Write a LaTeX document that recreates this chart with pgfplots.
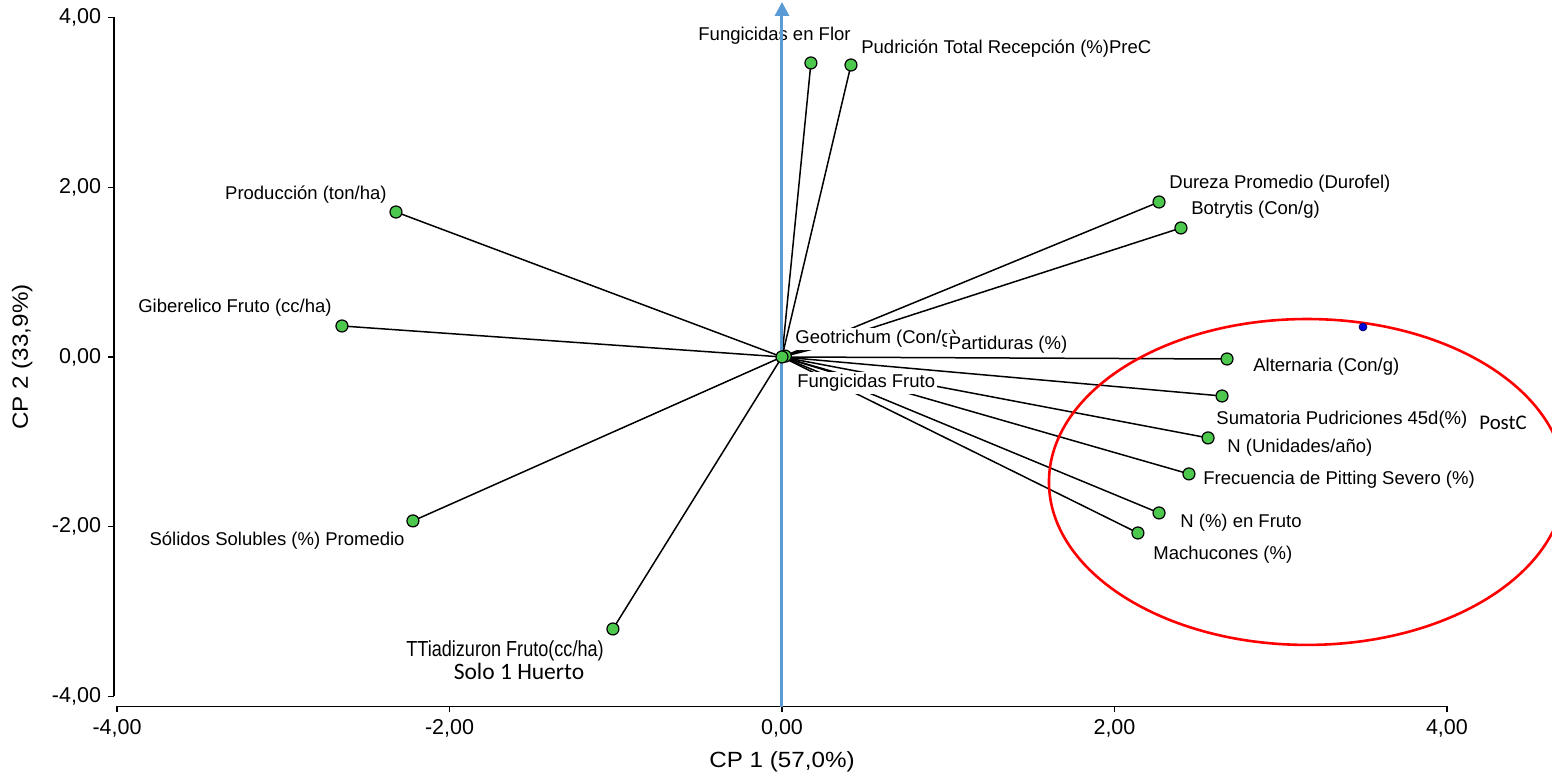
\documentclass[border=0pt]{standalone}
\usepackage{pgfplots}
\pgfplotsset{compat=1.18}
\usepackage{pgfplotstable}
\usepackage{fontspec}
\setmainfont{Liberation Sans}
\newfontfamily\calib{Carlito}
\newfontfamily\narrowfont[FakeStretch=0.83]{Liberation Sans}
\newfontfamily\axlabfont[FakeStretch=1.1]{Liberation Sans}
\usetikzlibrary{arrows.meta}

\definecolor{ptgreen}{RGB}{76,201,76}
\definecolor{arrowblue}{RGB}{91,155,213}
\definecolor{dotblue}{RGB}{0,0,220}
\newcommand\lf{\fontsize{9.25}{11}\selectfont}

\pgfplotstableread{
x y
0.174 3.464
0.415 3.440
2.268 1.826
2.400 1.520
-2.322 1.708
-2.647 0.365
0.40 0.20
0.02 0.01
0.50 -0.30
2.677 -0.024
2.647 -0.460
2.563 -0.954
2.448 -1.378
2.268 -1.838
2.141 -2.074
-2.220 -1.932
-1.017 -3.205
}\loadings

\begin{document}
\begin{tikzpicture}
\begin{axis}[
  scale only axis, width=665pt, height=339.5pt,
  xmin=-4, xmax=4, ymin=-4, ymax=4,
  axis x line*=bottom, axis y line*=left,
  axis line style={black, line width=0.6pt},
  x axis line style={yshift=-5pt},
  y axis line style={xshift=-1.5pt},
  xtick={-4,-2,0,2,4}, ytick={-4,-2,0,2,4},
  minor tick num=0,
  tick align=outside, major tick length=3pt,
  xtick style={yshift=-5pt, black, line width=0.6pt},
  ytick style={xshift=-1.5pt, black, line width=0.6pt},
  xticklabel style={yshift=-5pt},
  yticklabel style={xshift=-1.5pt},
  tick label style={font=\fontsize{10.75}{12}\selectfont},
  /pgf/number format/fixed,
  /pgf/number format/fixed zerofill,
  /pgf/number format/precision=2,
  /pgf/number format/use comma,
  /pgf/number format/assume math mode=true,
  xlabel={CP 1 (57,0\%)}, ylabel={CP 2 (33,9\%)},
  label style={font=\axlabfont\fontsize{11}{13}\selectfont},
  xlabel style={at={(axis description cs:0.5,-0.0965)}, anchor=center},
  ylabel style={at={(axis description cs:-0.0714,0.5)}, anchor=center},
  clip=false,
]
% loading vectors
\addplot[black, line width=0.75pt, quiver={u=\thisrow{x}, v=\thisrow{y}}, -] table[x expr=0, y expr=0] {\loadings};
\addplot[only marks, mark=*, mark size=3pt, mark options={fill=ptgreen, draw=black, line width=0.6pt},
  skip coords between index={6}{7}, skip coords between index={8}{9}] table[x=x, y=y] {\loadings};

% labels
\begin{scope}[every node/.style={font=\lf, fill=white, inner sep=0pt}]
\node[anchor=center] at (axis cs:-0.045,3.782) {Fungicidas en Flor};
\node[anchor=west] at (axis cs:0.475,3.629) {Pudrición Total Recepción (\%)PreC};
\node[anchor=west] at (axis cs:2.328,2.038) {Dureza Promedio (Durofel)};
\node[anchor=west] at (axis cs:2.460,1.732) {Botrytis (Con/g)};
\node[anchor=west, inner sep=1pt] at (axis cs:0.066,0.212) {Geotrichum (Con/g)};
\node[anchor=west, inner sep=1pt] at (axis cs:0.990,0.141) {Partiduras (\%)};
\node[anchor=west, inner sep=1pt] at (axis cs:0.078,-0.306) {Fungicidas Fruto};
\node[anchor=west] at (axis cs:2.833,-0.118) {Alternaria (Con/g)};
\node[anchor=west] at (axis cs:2.611,-0.742) {Sumatoria Pudriciones 45d(\%)};
\node[anchor=west, font=\calib\fontsize{10.4}{12}\selectfont] at (axis cs:4.193,-0.778) {PostC};
\node[anchor=west] at (axis cs:2.677,-1.072) {N (Unidades/año)};
\node[anchor=west] at (axis cs:2.532,-1.449) {Frecuencia de Pitting Severo (\%)};
\node[anchor=west] at (axis cs:2.394,-1.956) {N (\%) en Fruto};
\node[anchor=west] at (axis cs:2.232,-2.333) {Machucones (\%)};
\node[anchor=east] at (axis cs:-2.376,1.909) {Producción (ton/ha)};
\node[anchor=east] at (axis cs:-2.707,0.577) {Giberelico Fruto (cc/ha)};
\node[anchor=east] at (axis cs:-2.268,-2.168) {Sólidos Solubles (\%) Promedio};
\node[anchor=center, font=\narrowfont\fontsize{10.9}{12}\selectfont] at (axis cs:-1.666,-3.464) {TTiadizuron Fruto(cc/ha)};
\node[anchor=center, font=\calib\fontsize{11.75}{13}\selectfont] at (axis cs:-1.582,-3.711) {Solo 1 Huerto};
\end{scope}

% vertical blue arrow
\addplot[arrowblue, line width=1.5pt, -{Triangle[width=7pt,length=7pt]}] coordinates {(0,-4.124) (0,4.183)};
% origin marker on top
\addplot[only marks, mark=*, mark size=3pt, mark options={fill=ptgreen, draw=black, line width=0.6pt}] coordinates {(0,0)};
\addplot[arrowblue, line width=1.5pt] coordinates {(0,-0.07) (0,0.07)};

% red ellipse
\draw[red, line width=1.3pt] (axis cs:3.158,-1.473) ellipse [x radius=1.552, y radius=1.920];
% blue point
\addplot[only marks, mark=*, mark size=2pt, mark options={fill=dotblue, draw=black!70!blue, line width=0.3pt}] coordinates {(3.495,0.353)};

\coordinate (bbsw) at (axis cs:-4.704,-4.960);
\coordinate (bbne) at (axis cs:4.632,4.206);
\end{axis}
\pgfresetboundingbox
\useasboundingbox (bbsw) rectangle (bbne);
\end{tikzpicture}
\end{document}
